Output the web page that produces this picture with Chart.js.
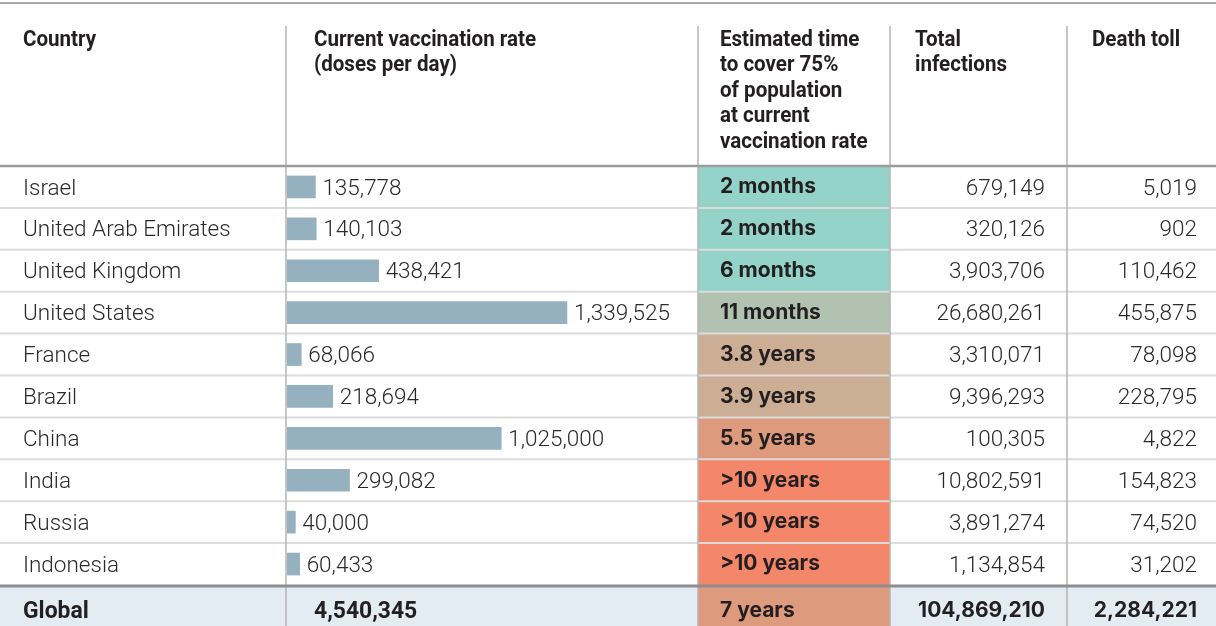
<!DOCTYPE html>
<html>
<head>
<meta charset="utf-8">
<script src="https://cdn.jsdelivr.net/npm/chart.js@4/dist/chart.umd.min.js"></script>
<style>
  html, body { margin: 0; padding: 0; background: #fff; }
  #wrap { width: 1216px; height: 626px; }
</style>
</head>
<body>
<div id="wrap"><canvas id="myChart" width="1216" height="626"></canvas></div>
<script>
const countries = ['Israel', 'United Arab Emirates', 'United Kingdom', 'United States', 'France',
  'Brazil', 'China', 'India', 'Russia', 'Indonesia'];
const dosesPerDay = [135778, 140103, 438421, 1339525, 68066, 218694, 1025000, 299082, 40000, 60433];
const timeToCover = ['2 months', '2 months', '6 months', '11 months', '3.8 years', '3.9 years',
  '5.5 years', '>10 years', '>10 years', '>10 years'];
const totalInfections = [679149, 320126, 3903706, 26680261, 3310071, 9396293, 100305, 10802591, 3891274, 1134854];
const deathToll = [5019, 902, 110462, 455875, 78098, 228795, 4822, 154823, 74520, 31202];

const globalLabel = 'Global';
const globalDoses = 4540345;
const globalTime = '7 years';
const globalInfections = 104869210;
const globalDeaths = 2284221;

const headers = [
  ['Country'],
  ['Current vaccination rate', '(doses per day)'],
  ['Estimated time', 'to cover 75%', 'of population', 'at current', 'vaccination rate'],
  ['Total', 'infections'],
  ['Death toll']
];

// colour for each time bucket
const timeColors = {
  '2 months': '#93d3ca', '6 months': '#93d3ca', '11 months': '#b2c2b0',
  '3.8 years': '#ccae95', '3.9 years': '#ccae95', '5.5 years': '#de9a7d',
  '7 years': '#de9a7d', '>10 years': '#f4866a'
};

const W = 1216, H = 626;
const col = { country: 23, barText: 314, time: 698, timeText: 720, total: 890, totalRight: 1045, death: 1067, deathRight: 1197 };
const seps = [286, 698, 890, 1067];

const fmt = v => v.toLocaleString('en-US');
const headFont = 'bold 22px Roboto, sans-serif';
const bodyFont = '300 22.5px Roboto, "Noto Sans", sans-serif';
const strongFont = '700 21px Inter, Roboto, sans-serif';

// condensed look: squeeze bold text horizontally
function condensedText(ctx, text, x, y, sx) {
  ctx.save();
  ctx.translate(x, y);
  ctx.scale(sx, 1);
  ctx.fillText(text, 0, 0);
  ctx.restore();
}

const tablePlugin = {
  id: 'tableDraw',
  beforeDatasetsDraw(chart) {
    const ctx = chart.ctx, y = chart.scales.y;
    const rowH = (y.bottom - y.top) / countries.length;
    ctx.save();
    ctx.fillStyle = '#e3ecf2';
    ctx.fillRect(0, y.bottom, W, H - y.bottom);
    countries.forEach((c, i) => {
      const cy = y.getPixelForValue(i);
      ctx.fillStyle = timeColors[timeToCover[i]];
      ctx.fillRect(col.time, cy - rowH / 2, col.total - col.time, rowH);
    });
    ctx.fillStyle = timeColors[globalTime];
    ctx.fillRect(col.time, y.bottom, col.total - col.time, H - y.bottom);
    ctx.restore();
  },
  afterDatasetsDraw(chart) {
    const ctx = chart.ctx, y = chart.scales.y, x = chart.scales.x;
    const rowH = (y.bottom - y.top) / countries.length;
    ctx.save();

    // row lines
    ctx.strokeStyle = '#dcdcdc';
    ctx.lineWidth = 2;
    for (let i = 1; i < countries.length; i++) {
      const ly = y.top + i * rowH;
      ctx.beginPath(); ctx.moveTo(0, ly); ctx.lineTo(W, ly); ctx.stroke();
    }
    // top rule
    ctx.strokeStyle = '#a8a8a8';
    ctx.beginPath(); ctx.moveTo(0, 3); ctx.lineTo(W, 3); ctx.stroke();
    // vertical separators
    ctx.strokeStyle = '#b4b4b4';
    ctx.lineWidth = 1.5;
    seps.forEach(sx => {
      ctx.beginPath(); ctx.moveTo(sx, 26); ctx.lineTo(sx, H); ctx.stroke();
    });
    // header rule and global rule
    ctx.strokeStyle = '#9c9c9c';
    ctx.lineWidth = 2.5;
    ctx.beginPath(); ctx.moveTo(0, y.top); ctx.lineTo(W, y.top); ctx.stroke();
    ctx.strokeStyle = '#8e8e8e';
    ctx.lineWidth = 3;
    ctx.beginPath(); ctx.moveTo(0, y.bottom + 1); ctx.lineTo(W, y.bottom + 1); ctx.stroke();

    // headers
    ctx.fillStyle = '#231f20';
    ctx.textBaseline = 'middle';
    ctx.textAlign = 'left';
    ctx.font = headFont;
    const squeeze = 222 / ctx.measureText('Current vaccination rate').width;
    const hx = [col.country, col.barText, col.timeText, 915, 1092];
    headers.forEach((lines, k) => {
      lines.forEach((t, j) => condensedText(ctx, t, hx[k], 40 + j * 25.5, squeeze));
    });

    // body rows
    countries.forEach((c, i) => {
      const cy = y.getPixelForValue(i);
      ctx.fillStyle = '#2a2a2a';
      ctx.font = bodyFont;
      ctx.textAlign = 'left';
      ctx.fillText(c, col.country, cy + 2);
      ctx.fillText(fmt(dosesPerDay[i]), x.getPixelForValue(dosesPerDay[i]) + 7, cy + 2);
      ctx.textAlign = 'right';
      ctx.fillText(fmt(totalInfections[i]), col.totalRight, cy + 2);
      ctx.fillText(fmt(deathToll[i]), col.deathRight, cy + 2);
      ctx.textAlign = 'left';
      ctx.fillStyle = '#231f20';
      ctx.font = strongFont;
      ctx.fillText(timeToCover[i], col.timeText, cy);
    });

    // global row
    const gy = 611;
    ctx.fillStyle = '#231f20';
    ctx.textAlign = 'left';
    ctx.font = 'bold 24.5px Roboto, sans-serif';
    condensedText(ctx, globalLabel, col.country, gy + 1, squeeze);
    condensedText(ctx, fmt(globalDoses), col.barText, gy + 1, squeeze);
    ctx.font = strongFont;
    ctx.fillText(globalTime, col.timeText, gy);
    ctx.textAlign = 'right';
    ctx.fillText(fmt(globalInfections), col.totalRight, gy);
    ctx.fillText(fmt(globalDeaths), col.deathRight, gy);
    ctx.restore();
  }
};

const data = {
  labels: countries,
  datasets: [{
    label: 'Current vaccination rate',
    data: dosesPerDay,
    backgroundColor: '#95b0be',
    borderWidth: 0,
    barThickness: 22
  }]
};

const config = {
  type: 'bar',
  data: data,
  options: {
    indexAxis: 'y',
    responsive: false,
    animation: false,
    devicePixelRatio: 1,
    layout: { padding: { left: 287, right: 511, top: 166, bottom: 41 } },
    plugins: { legend: { display: false }, tooltip: { enabled: false } },
    scales: {
      x: { display: false, min: 0, max: 2000000 },
      y: { display: false }
    }
  },
  plugins: [tablePlugin]
};

const myChart = new Chart(document.getElementById('myChart'), config);
</script>
</body>
</html>
